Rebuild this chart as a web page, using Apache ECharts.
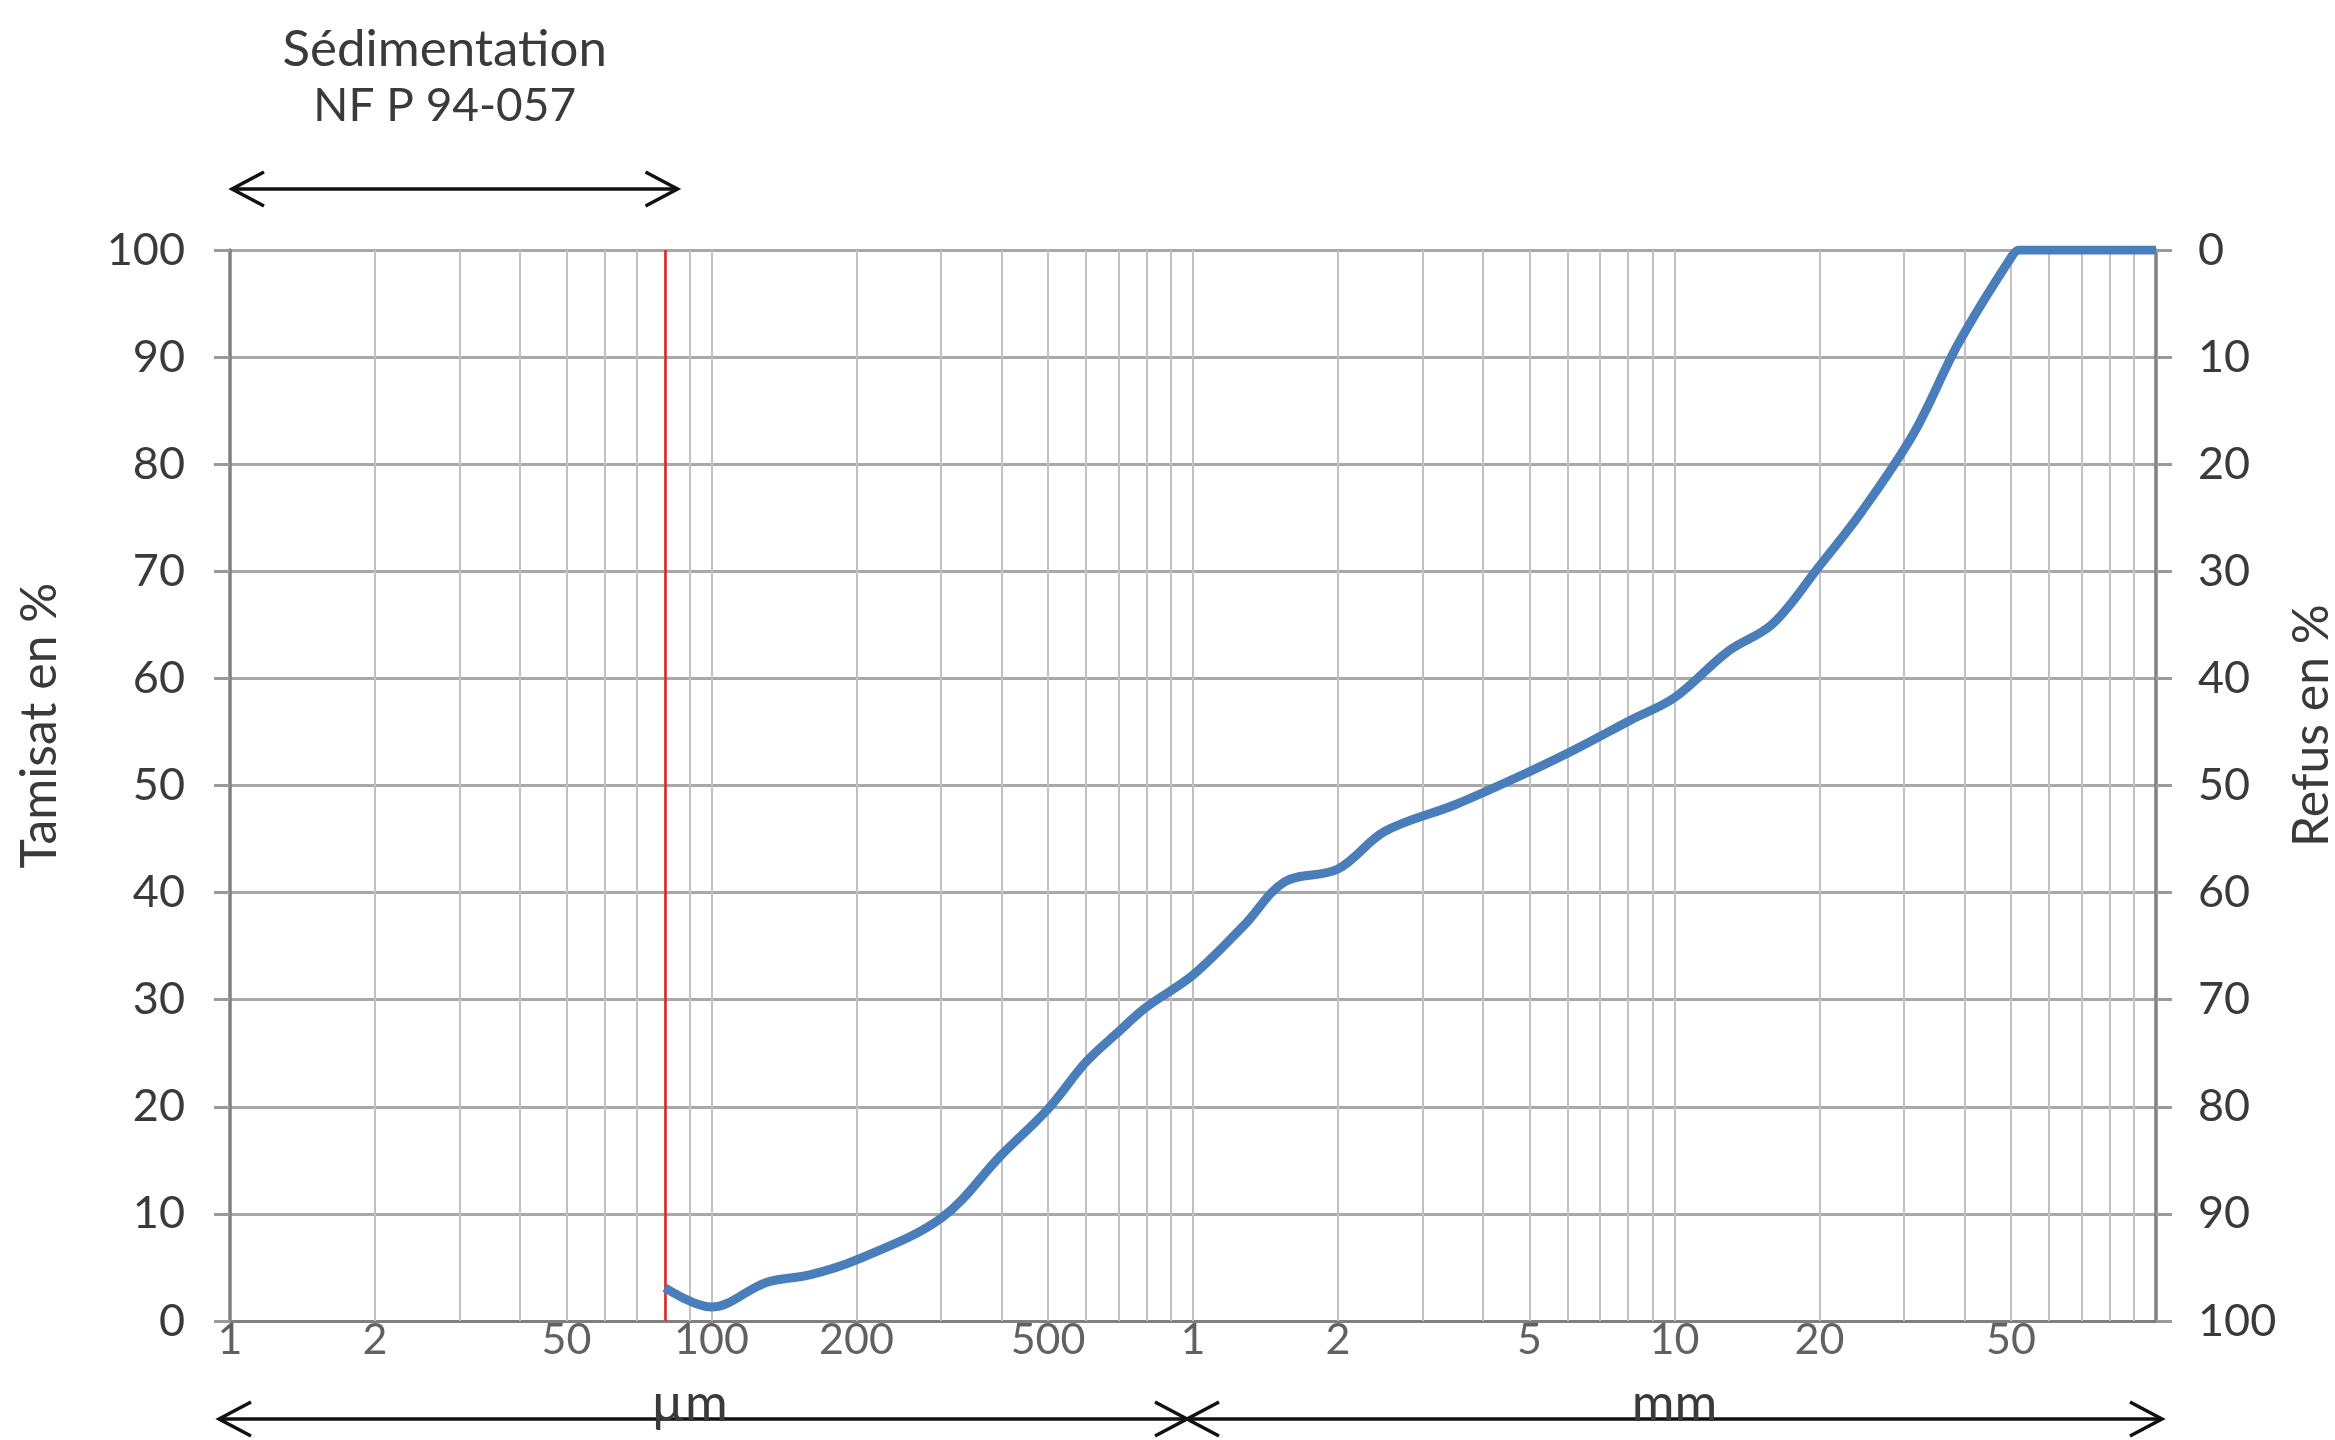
<!DOCTYPE html>
<html><head><meta charset="utf-8">
<script src="https://cdn.jsdelivr.net/npm/echarts@6/dist/echarts.min.js"></script>
<style>html,body{margin:0;padding:0;background:#fff}#c{width:2335px;height:1440px}</style>
</head><body><div id="c"></div>
<script>
// Sieve sizes (mm) and cumulative passing (%)
const sizesMm = [0.08, 0.1, 0.13, 0.16, 0.2, 0.3, 0.4, 0.5, 0.6, 0.7, 0.8, 1.0, 1.28, 1.55, 2.0, 2.5, 3.5, 5, 6.3, 8.1, 10, 12.9, 16, 20, 24.5, 31.4, 38.9, 50, 52, 100];
const passingPct = [3.1, 1.3, 3.6, 4.3, 5.7, 9.6, 15.5, 19.8, 24.2, 27.0, 29.3, 32.3, 37.0, 41.0, 42.2, 45.7, 48.2, 51.3, 53.5, 56.1, 58.2, 62.5, 65.1, 70.5, 75.6, 82.9, 91.3, 99.3, 100, 100];

// Vertical grid positions (mm)
const gridValuesMm = [0.02,0.03,0.04,0.05,0.06,0.07,0.08,0.09,0.1,0.2,0.3,0.4,0.5,0.6,0.7,0.8,0.9,1,2,3,4,5,6,7,8,9,10,20,30,40,50,60,70,80,90];
// Bottom tick labels
const xLabelValuesMm = [0.01, 0.02, 0.05, 0.1, 0.2, 0.5, 1, 2, 5, 10, 20, 50];
const xLabelTexts = ['1', '2', '50', '100', '200', '500', '1', '2', '5', '10', '20', '50'];
// Annotations
const sedimentationLimitMm = 0.08;
const sedimentationArrowMm = [0.01, 0.085];
const unitSplitMm = 1;
const unitTexts = ['µm', 'mm'];
const unitTextAtMm = [0.09, 10];
const titleLines = ['Sédimentation', 'NF P 94-057'];

(function () {
const FONT = 'Lato';
const TXT = '#3a3a3a';
const chart = echarts.init(document.getElementById('c'));
const gridBox = {left: 230, right: 179, top: 250, bottom: 119, outerBoundsMode: 'none', containLabel: false};

const option = {
  animation: false,
  backgroundColor: '#fff',
  grid: gridBox,
  xAxis: {
    type: 'log', logBase: 10, min: 0.01, max: 100,
    axisLine: {show: true, lineStyle: {color: '#808080', width: 3}},
    axisTick: {show: false}, axisLabel: {show: false}, splitLine: {show: false}, minorTick: {show: false}
  },
  yAxis: [{
    type: 'value', min: 0, max: 100, interval: 10, position: 'left',
    name: 'Tamisat en %', nameLocation: 'middle', nameRotate: 90, nameGap: 165,
    nameTextStyle: {fontFamily: FONT, fontSize: 50, color: TXT, padding: [0, 0, 0, 120]},
    axisLine: {show: true, lineStyle: {color: '#808080', width: 3.5}},
    axisTick: {show: true, inside: false, length: 16, lineStyle: {color: '#9a9a9a', width: 3}},
    axisLabel: {margin: 45, fontFamily: FONT, fontSize: 45, color: TXT},
    splitLine: {show: true, lineStyle: {color: '#a8a8a8', width: 3}}
  }, {
    type: 'value', min: 0, max: 100, interval: 10, position: 'right', inverse: true,
    name: 'Refus en %', nameLocation: 'middle', nameRotate: 90, nameGap: 128,
    nameTextStyle: {fontFamily: FONT, fontSize: 50, color: TXT, padding: [0, 0, 0, 120]},
    axisLine: {show: true, lineStyle: {color: '#808080', width: 3.5}},
    axisTick: {show: true, inside: false, length: 16, lineStyle: {color: '#9a9a9a', width: 3}},
    axisLabel: {margin: 42, fontFamily: FONT, fontSize: 45, color: TXT},
    splitLine: {show: false}
  }],
  series: [{
    name: 'labels', type: 'scatter', symbolSize: 0, silent: true, clip: false, z: 1,
    data: xLabelValuesMm.map(v => [v, 0]),
    label: {show: true, position: 'bottom', distance: -2, fontFamily: FONT, fontSize: 43, color: TXT,
      formatter: p => xLabelTexts[p.dataIndex]},
    markLine: {
      silent: true, symbol: ['none', 'none'], label: {show: false}, z: 1,
      lineStyle: {color: '#c2c2c2', width: 2, type: 'solid'},
      emphasis: {disabled: true},
      data: gridValuesMm.map(v => ({xAxis: v}))
    }
  }, {
    name: 'limit', type: 'line', data: [], silent: true, z: 3,
    markLine: {
      silent: true, symbol: ['none', 'none'], label: {show: false},
      lineStyle: {color: '#e02020', width: 2.5, type: 'solid'},
      emphasis: {disabled: true},
      data: [{xAxis: sedimentationLimitMm}]
    }
  }, {
    name: 'Tamisat', type: 'line', smooth: 0.35, showSymbol: false, z: 5,
    lineStyle: {color: '#4a7ebb', width: 9}, itemStyle: {color: '#4a7ebb'},
    data: sizesMm.map((s, i) => [s, passingPct[i]])
  }]
};
chart.setOption(option);

function px(x, y) { return chart.convertToPixel({gridIndex: 0}, [x, y]); }
const LINE = {stroke: '#111', lineWidth: 3.5, fill: null};
function arrowHead(tipX, tipY, dir) {
  return {type: 'polyline', silent: true, z: 20,
    shape: {points: [[tipX - dir * 32, tipY - 17], [tipX, tipY], [tipX - dir * 32, tipY + 17]]}, style: LINE};
}
function segment(x1, x2, y) {
  return {type: 'line', silent: true, z: 20, shape: {x1: x1, y1: y, x2: x2, y2: y}, style: LINE};
}
const plotTop = px(0.01, 100)[1];
const plotBottom = px(0.01, 0)[1];
const gL = px(sedimentationArrowMm[0], 0)[0] + 2;
const gR = px(sedimentationArrowMm[1], 0)[0];
const yTop = plotTop - 61;
const bL = px(0.01, 0)[0] - 11;
const bM = px(unitSplitMm, 0)[0] - 6;
const bR = px(100, 0)[0] + 6;
const yB = plotBottom + 98;
const titleX = (gL + gR) / 2 - 10;
const graphics = [
  segment(gL, gR, yTop), arrowHead(gL, yTop, -1), arrowHead(gR, yTop, 1),
  segment(bL, bR, yB), arrowHead(bL, yB, -1), arrowHead(bM, yB, 1), arrowHead(bM, yB, -1), arrowHead(bR, yB, 1),
  {type: 'text', silent: true, z: 20, style: {x: titleX, y: 50, text: titleLines[0], textAlign: 'center', textVerticalAlign: 'middle', fontFamily: FONT, fontSize: 51, fill: TXT}},
  {type: 'text', silent: true, z: 20, style: {x: titleX, y: 106, text: titleLines[1], textAlign: 'center', textVerticalAlign: 'middle', fontFamily: FONT, fontSize: 46, fill: TXT}},
  {type: 'text', silent: true, z: 21, style: {x: px(unitTextAtMm[0], 0)[0], y: yB + 11, text: unitTexts[0], textAlign: 'center', textVerticalAlign: 'bottom', fontFamily: FONT, fontSize: 52, fill: TXT}},
  {type: 'text', silent: true, z: 21, style: {x: px(unitTextAtMm[1], 0)[0], y: yB + 11, text: unitTexts[1], textAlign: 'center', textVerticalAlign: 'bottom', fontFamily: FONT, fontSize: 52, fill: TXT}}
];
chart.setOption({graphic: graphics});
})();
</script></body></html>
